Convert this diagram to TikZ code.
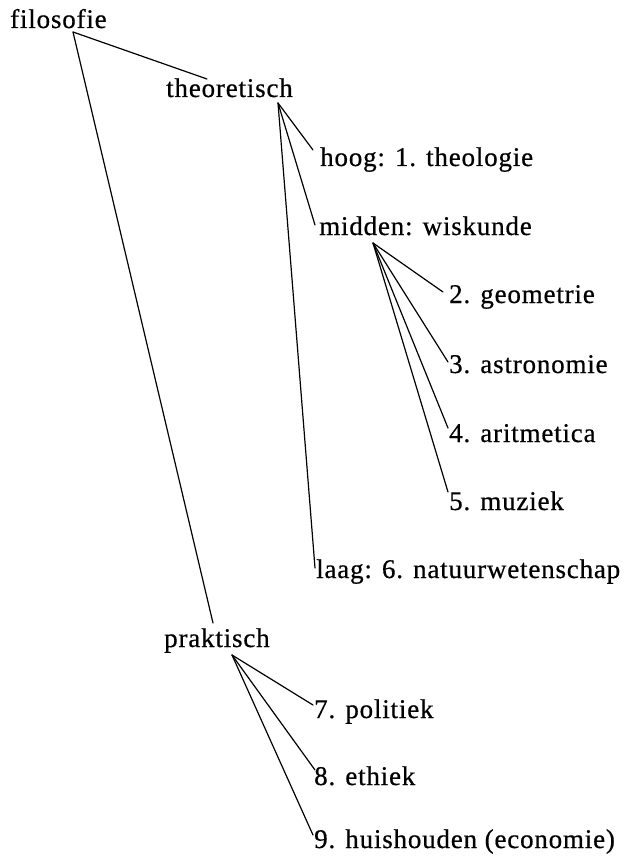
\documentclass[tikz,border=0pt]{standalone}
\usepackage{fontspec}
\setmainfont{Liberation Serif}[LetterSpace=3,FakeBold=0.6]
\begin{document}
\begin{tikzpicture}[x=1pt,y=-1pt,
  lbl/.style={anchor=base west,inner sep=0pt,font=\fontsize{27}{32}\selectfont},
  con/.style={line width=1.2pt,line cap=round,line join=round}]
\useasboundingbox (0,0) rectangle (627,861);
% labels
\node[lbl] (filosofie) at (10,28) {filosofie};
\node[lbl] (theoretisch) at (166,97) {theoretisch};
\node[lbl] (hoog) at (320,166) {hoog: 1. theologie};
\node[lbl] (midden) at (319,235) {midden: wiskunde};
\node[lbl] (geometrie) at (449,303) {2. geometrie};
\node[lbl] (astronomie) at (449,373) {3. astronomie};
\node[lbl] (aritmetica) at (449,442) {4. aritmetica};
\node[lbl] (muziek) at (449,510) {5. muziek};
\node[lbl] (laag) at (316,578) {laag: 6. natuurwetenschap};
\node[lbl] (praktisch) at (164,647) {praktisch};
\node[lbl] (politiek) at (314,718) {7. politiek};
\node[lbl] (ethiek) at (314,785) {8. ethiek};
\node[lbl] (huishouden) at (314,848) {9. huishouden (economie)};
% hubs and ends
\coordinate (hF) at (73,32);
\coordinate (hT) at (278,103);
\coordinate (hM) at (373,243);
\coordinate (hP) at (232,655);
\coordinate (eT) at (207,79);
\coordinate (eP) at (213,623);
\coordinate (eHoog) at (313,150);
\coordinate (eMidden) at (315,225);
\coordinate (eLaag) at (315,568);
\coordinate (eGeo) at (443,292);
\coordinate (eAstro) at (448,362);
\coordinate (eArit) at (448,428);
\coordinate (eMuz) at (448,492);
\coordinate (ePol) at (313,705);
\coordinate (eEth) at (315,770);
\coordinate (eHuis) at (313,835);
% connectors
\draw[con] (hF) -- (eT);
\draw[con] (hF) -- (eP);
\draw[con] (hT) -- (eHoog);
\draw[con] (hT) -- (eMidden);
\draw[con] (hT) -- (eLaag);
\draw[con] (hM) -- (eGeo);
\draw[con] (hM) -- (eAstro);
\draw[con] (hM) -- (eArit);
\draw[con] (hM) -- (eMuz);
\draw[con] (hP) -- (ePol);
\draw[con] (hP) -- (eEth);
\draw[con] (hP) -- (eHuis);
\end{tikzpicture}
\end{document}
